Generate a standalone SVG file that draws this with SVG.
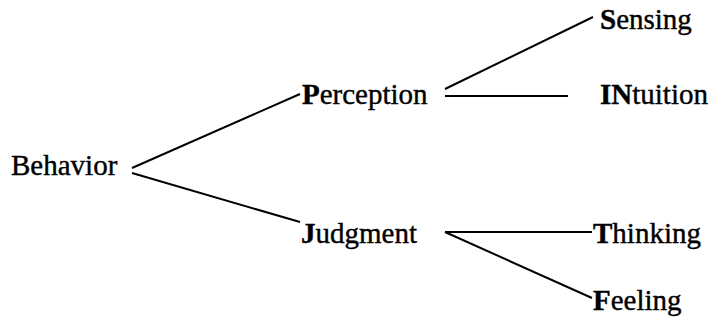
<svg xmlns="http://www.w3.org/2000/svg" width="711" height="323" viewBox="0 0 711 323">
<style>
text{font-family:'Liberation Serif','Times New Roman',Times,serif;font-size:29px;fill:#000;stroke:#000;stroke-width:0.4}
.b{font-weight:bold}
line{stroke:#000;stroke-width:2;fill:none}
</style>
<rect width="711" height="323" fill="#fff"/>
<g id="connectors">
<line x1="132" y1="168" x2="300" y2="94"/>
<line x1="132" y1="173" x2="300" y2="222"/>
<line x1="445" y1="89" x2="593" y2="17"/>
<line x1="445" y1="96" x2="568" y2="96"/>
<line x1="445" y1="232" x2="592" y2="232"/>
<line x1="445" y1="232" x2="592" y2="298"/>
</g>
<g font-family="Liberation Serif, serif">
<g id="behavior"><text x="11" y="175">Behavior</text></g>
<g id="perception"><text x="302" y="104"><tspan class="b">P</tspan>erception</text></g>
<g id="judgment"><text x="301" y="243"><tspan class="b">J</tspan>udgment</text></g>
<g id="sensing"><text x="600" y="29"><tspan class="b">S</tspan>ensing</text></g>
<g id="intuition"><text x="600" y="104"><tspan class="b">IN</tspan>tuition</text></g>
<g id="thinking"><text x="593" y="243"><tspan class="b">T</tspan>hinking</text></g>
<g id="feeling"><text x="593" y="310"><tspan class="b">F</tspan>eeling</text></g>
</g>
</svg>
